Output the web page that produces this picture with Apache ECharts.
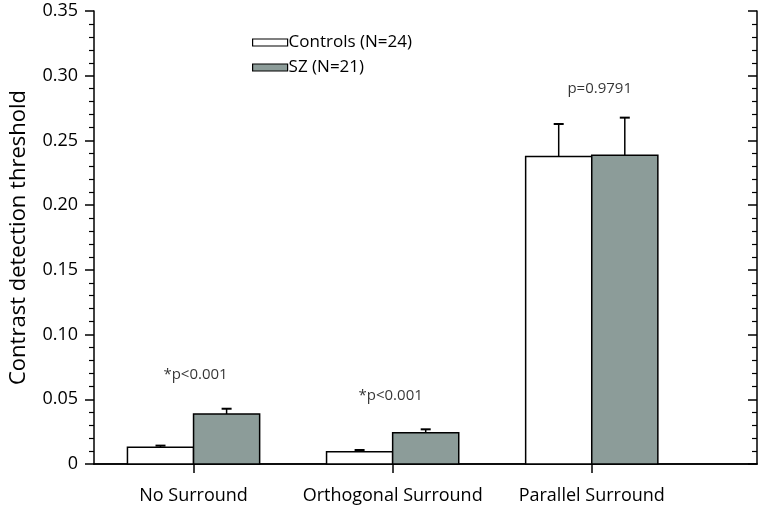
<!DOCTYPE html>
<html>
<head>
<meta charset="utf-8">
<script src="https://cdn.jsdelivr.net/npm/echarts@6/dist/echarts.min.js"></script>
<style>
html,body{margin:0;padding:0;background:#fff;}
#chart{width:762px;height:515px;}
</style>
</head>
<body>
<div id="chart"></div>
<script>
// ---- data ----
const categories = ['No Surround', 'Orthogonal Surround', 'Parallel Surround'];
const categoryPos = [1, 2, 3];
const controlsMean = [0.0129, 0.0095, 0.2375];
const controlsErr = [0.0013, 0.0013, 0.0252];
const szMean = [0.0386, 0.0242, 0.2386];
const szErr = [0.0041, 0.0026, 0.0290];
const pLabels = ['*p<0.001', '*p<0.001', 'p=0.9791'];
const pLabelX = [1.01, 1.99, 3.04];
const pLabelY = [0.0688, 0.0525, 0.2898];
const yTicks = [0, 0.05, 0.10, 0.15, 0.20, 0.25, 0.30, 0.35];
const seriesNames = ['Controls (N=24)', 'SZ (N=21)'];

const FONT = 'Open Sans';
const GRAY = '#8c9c99';
const BAR_FRAC = 0.332;

function makeRender(side) {
  return function (params, api) {
    const x = api.value(0), y = api.value(1), e = api.value(2);
    const base = api.coord([x, 0]);
    const top = api.coord([x, y]);
    const errTop = api.coord([x, y + e]);
    const bw = api.size([1, 0])[0] * BAR_FRAC;
    const x0 = side < 0 ? base[0] - bw : base[0];
    const cx = x0 + bw / 2;
    const style = api.style();
    return {
      type: 'group',
      children: [
        {
          type: 'line',
          shape: { x1: cx, y1: top[1], x2: cx, y2: errTop[1] },
          style: { stroke: '#000', lineWidth: 1.5 }
        },
        {
          type: 'line',
          shape: { x1: cx - 5, y1: errTop[1], x2: cx + 5, y2: errTop[1] },
          style: { stroke: '#000', lineWidth: 2 }
        },
        {
          type: 'rect',
          shape: { x: x0, y: top[1], width: bw, height: base[1] - top[1] },
          style: { fill: style.fill, stroke: '#000', lineWidth: 1.5 }
        }
      ]
    };
  };
}

const chart = echarts.init(document.getElementById('chart'), null, { renderer: 'canvas' });
const option = {
  backgroundColor: '#fff',
  animation: false,
  textStyle: { fontFamily: FONT },
  grid: { left: 94, right: 5, top: 11, bottom: 51 },
  legend: {
    orient: 'vertical',
    left: 247,
    top: 29,
    itemWidth: 35,
    itemHeight: 7,
    itemGap: 8,
    textStyle: { fontFamily: FONT, fontSize: 17, color: '#000', padding: [0, 0, 0, -4] },
    data: [
      { name: seriesNames[0], icon: 'rect', itemStyle: { color: '#fff', borderColor: '#000', borderWidth: 1.2 } },
      { name: seriesNames[1], icon: 'rect', itemStyle: { color: GRAY, borderColor: '#000', borderWidth: 1.2 } }
    ]
  },
  xAxis: [
    {
      type: 'value',
      position: 'bottom',
      min: 0.5,
      max: 3.83,
      axisLine: { show: true, onZero: false, lineStyle: { color: '#000', width: 1.5 } },
      axisTick: { show: true, customValues: categoryPos, length: 9, inside: false, lineStyle: { color: '#000', width: 1.5 } },
      axisLabel: {
        show: true,
        customValues: categoryPos,
        formatter: function (v) { return categories[Math.round(v) - 1] || ''; },
        margin: 23,
        fontFamily: FONT,
        fontSize: 18,
        color: '#000'
      },
      splitLine: { show: false }
    },
    {
      type: 'value',
      position: 'top',
      min: 0.5,
      max: 3.83,
      axisLine: { show: true, lineStyle: { color: '#000', width: 1.5 } },
      axisTick: { show: false },
      axisLabel: { show: false },
      splitLine: { show: false }
    }
  ],
  yAxis: [
    {
      type: 'value',
      position: 'left',
      min: 0,
      max: 0.35,
      interval: 0.05,
      name: 'Contrast detection threshold',
      nameLocation: 'middle',
      nameGap: 64,
      nameTextStyle: { fontFamily: FONT, fontSize: 22, color: '#000' },
      axisLine: { show: true, lineStyle: { color: '#000', width: 1.5 } },
      axisTick: { show: true, length: 9, inside: false, lineStyle: { color: '#000', width: 1.5 } },
      minorTick: { show: true, splitNumber: 5, length: 5, lineStyle: { color: '#000', width: 1.2 } },
      axisLabel: {
        margin: 16,
        fontFamily: FONT,
        fontSize: 18,
        color: '#000',
        formatter: function (v) {
          const t = yTicks.find(function (k) { return Math.abs(k - v) < 1e-9; });
          return t === 0 ? '0' : (t !== undefined ? t.toFixed(2) : '');
        }
      },
      splitLine: { show: false }
    },
    {
      type: 'value',
      position: 'right',
      min: 0,
      max: 0.35,
      interval: 0.05,
      axisLine: { show: true, lineStyle: { color: '#000', width: 1.5 } },
      axisTick: { show: true, length: 9, inside: true, lineStyle: { color: '#000', width: 1.5 } },
      minorTick: { show: true, splitNumber: 5, length: 5, lineStyle: { color: '#000', width: 1.2 } },
      axisLabel: { show: false },
      splitLine: { show: false }
    }
  ],
  series: [
    {
      name: seriesNames[0],
      type: 'custom',
      xAxisIndex: 0,
      yAxisIndex: 0,
      itemStyle: { color: '#fff', borderColor: '#000' },
      renderItem: makeRender(-1),
      encode: { x: 0, y: 1 },
      data: categoryPos.map(function (p, i) { return [p, controlsMean[i], controlsErr[i]]; }),
      z: 2
    },
    {
      name: seriesNames[1],
      type: 'custom',
      xAxisIndex: 0,
      yAxisIndex: 0,
      itemStyle: { color: GRAY, borderColor: '#000' },
      renderItem: makeRender(1),
      encode: { x: 0, y: 1 },
      data: categoryPos.map(function (p, i) { return [p, szMean[i], szErr[i]]; }),
      z: 2
    },
    {
      name: 'pvalues',
      type: 'scatter',
      xAxisIndex: 0,
      yAxisIndex: 0,
      symbolSize: 1,
      itemStyle: { color: 'rgba(0,0,0,0)' },
      label: {
        show: true,
        position: 'inside',
        fontFamily: FONT,
        fontSize: 15,
        color: '#000',
        formatter: function (p) { return pLabels[p.dataIndex]; }
      },
      silent: true,
      data: pLabelX.map(function (x, i) { return [x, pLabelY[i]]; }),
      z: 3
    }
  ]
};
chart.setOption(option);
</script>
</body>
</html>
